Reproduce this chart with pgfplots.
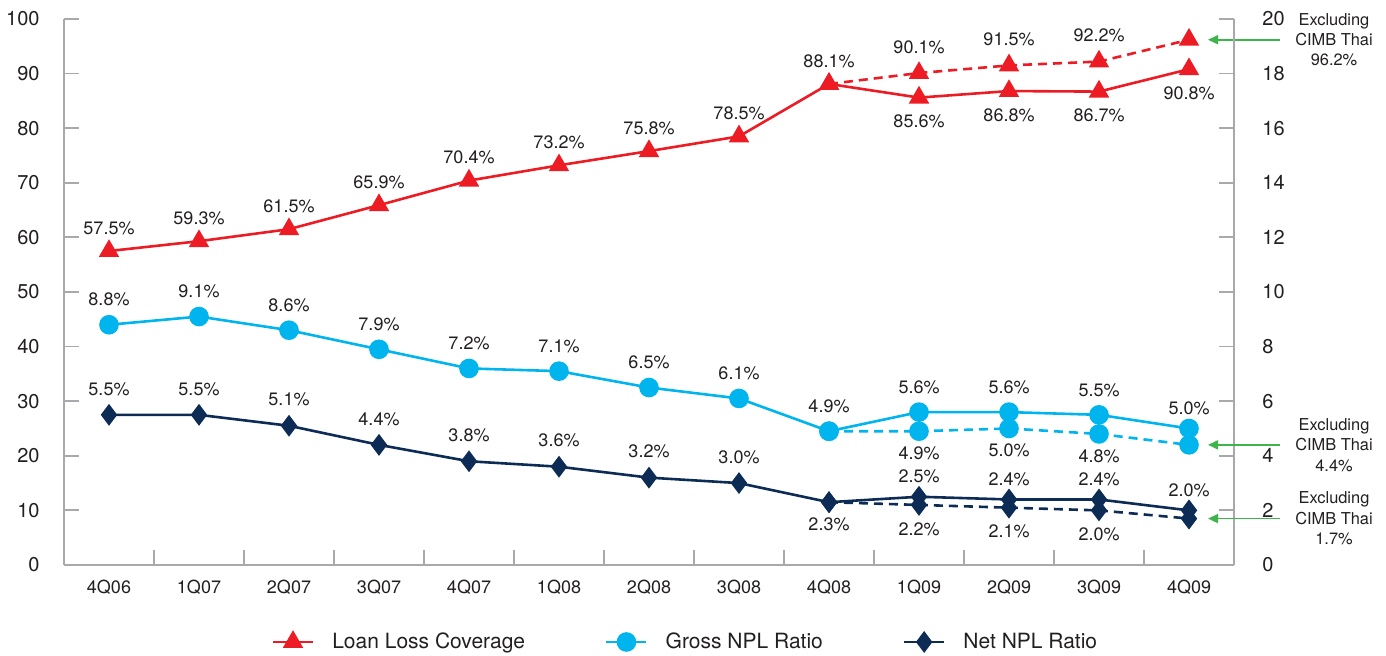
\documentclass[border=0pt]{standalone}
\usepackage{fontspec}
\setmainfont{TeX Gyre Heros}
\usepackage{pgfplots}
\usepackage{pgfplotstable}
\pgfplotsset{compat=1.18}
\usetikzlibrary{arrows.meta}
\definecolor{cred}{HTML}{ED1C24}
\definecolor{ccyan}{HTML}{00B4EE}
\definecolor{cnavy}{HTML}{0C2C55}
\definecolor{cgreen}{HTML}{3DB54A}
\definecolor{cgrid}{HTML}{A7A9AC}
\definecolor{ctext}{HTML}{231F20}
\pgfplotsset{
 /pgf/number format/assume math mode=true,
 loan/.style={cred, line width=1.3pt, mark=triangle*, mark size=4.6pt, mark options={solid, fill=cred}},
 gross/.style={ccyan, line width=1.3pt, mark=*, mark size=4.25pt, mark options={solid, fill=ccyan}},
 net/.style={cnavy, line width=1.3pt, mark=diamond*, mark size=4.4pt, mark options={solid, fill=cnavy}},
 dashline/.style={dash pattern=on 4.5pt off 3pt},
 dlab/.style={draw=none, nodes near coords={\pgfmathprintnumber[fixed,fixed zerofill,precision=1]{\pgfplotspointmeta}\%},
   point meta=y,
   every node near coord/.append style={anchor=center, yshift=#1, font=\fontsize{9}{10.8}\selectfont, text=ctext}},
 common/.style={scale only axis, width=585pt, height=273pt, xmin=-0.5, xmax=12.5, ymin=0,
   clip=false, tick align=inside, major tick length=7.5pt,
   axis line style={cgrid, line width=0.9pt}, tick style={cgrid, line width=0.9pt},
   yticklabel style={font=\fontsize{10}{12}\selectfont, text=ctext, inner sep=0pt}},
}
\pgfplotstableread{
x y
0 57.5
1 59.3
2 61.5
3 65.9
4 70.4
5 73.2
6 75.8
7 78.5
8 88.1
9 85.6
10 86.8
11 86.7
12 90.8
}\loansolid
\pgfplotstableread{
x y
8 88.1
9 90.1
10 91.5
11 92.2
12 96.2
}\loandash
\pgfplotstableread{
x y
0 8.8
1 9.1
2 8.6
3 7.9
4 7.2
5 7.1
6 6.5
7 6.1
8 4.9
9 5.6
10 5.6
11 5.5
12 5.0
}\grosssolid
\pgfplotstableread{
x y
8 4.9
9 4.9
10 5.0
11 4.8
12 4.4
}\grossdash
\pgfplotstableread{
x y
0 5.5
1 5.5
2 5.1
3 4.4
4 3.8
5 3.6
6 3.2
7 3.0
8 2.3
9 2.5
10 2.4
11 2.4
12 2.0
}\netsolid
\pgfplotstableread{
x y
8 2.3
9 2.2
10 2.1
11 2.0
12 1.7
}\netdash
\begin{document}
\begin{tikzpicture}
\begin{axis}[common, ymax=100,
  axis x line*=bottom, axis y line*=left,
  xtick={-0.5,0.5,...,12.5}, x tick label as interval,
  xticklabels={4Q06,1Q07,2Q07,3Q07,4Q07,1Q08,2Q08,3Q08,4Q08,1Q09,2Q09,3Q09,4Q09},
  xticklabel style={font=\fontsize{9}{11}\selectfont, text=ctext, inner sep=0pt, anchor=north, yshift=-7.5pt},
  ytick={0,10,...,100},
  yticklabel style={anchor=east, xshift=-12pt},
]
\addplot[loan, dashline, forget plot] table {\loandash};
\addplot[dlab=13pt, forget plot, restrict x to domain=8.5:11.5] table {\loandash};
\addplot[loan, forget plot] table {\loansolid};
\addplot[dlab=11.5pt, forget plot, restrict x to domain=-1:8.5] table {\loansolid};
\addplot[dlab=-12pt, forget plot, restrict x to domain=8.5:13] table {\loansolid};
\draw[cgreen, line width=0.8pt, -{Triangle[length=5pt,width=4.5pt]}] ([xshift=45.5pt]axis cs:12,96.2) -- ([xshift=9.5pt]axis cs:12,96.2);
\node[align=center, font=\fontsize{8.2}{10.2}\selectfont, text=ctext] at ([xshift=72.5pt]axis cs:12,96.2) {Excluding\\CIMB Thai\\96.2\%};
\end{axis}
\begin{axis}[common, ymax=20,
  axis x line=none, axis y line*=right,
  ytick={0,2,...,20},
  yticklabel style={anchor=west, xshift=14pt},
  legend columns=3,
  legend style={at={(0.532,-0.141)}, anchor=center, draw=none, fill=none,
    font=\fontsize{10.5}{12}\selectfont, text=ctext,
    /tikz/every even column/.append style={column sep=38pt},
    /tikz/every odd column/.append style={column sep=7pt}},
  legend image code/.code={\draw[mark repeat=2,mark phase=2,#1] plot coordinates {(0pt,0pt) (10pt,0pt) (20pt,0pt)};},
]
\addlegendimage{loan}
\addlegendentry{Loan Loss Coverage}
\addplot[gross, dashline, forget plot] table {\grossdash};
\addplot[dlab=-11pt, forget plot, restrict x to domain=8.5:11.5] table {\grossdash};
\addplot[gross] table {\grosssolid};
\addlegendentry{Gross NPL Ratio}
\addplot[dlab=12.5pt, forget plot, restrict x to domain=-1:11.5] table {\grosssolid};
\addplot[dlab=10pt, forget plot, restrict x to domain=11.5:13] table {\grosssolid};
\addplot[net, dashline, forget plot] table {\netdash};
\addplot[dlab=-12pt, forget plot, restrict x to domain=8.5:11.5] table {\netdash};
\addplot[net] table {\netsolid};
\addlegendentry{Net NPL Ratio}
\addplot[dlab=13pt, forget plot, restrict x to domain=-1:7.5] table {\netsolid};
\addplot[dlab=-11pt, forget plot, restrict x to domain=7.5:8.5] table {\netsolid};
\addplot[dlab=10pt, forget plot, restrict x to domain=8.5:13] table {\netsolid};
\draw[cgreen, line width=0.8pt, -{Triangle[length=5pt,width=4.5pt]}] ([xshift=45.5pt]axis cs:12,4.4) -- ([xshift=9.5pt]axis cs:12,4.4);
\node[align=center, font=\fontsize{8.2}{10.2}\selectfont, text=ctext] at ([xshift=72.5pt]axis cs:12,4.4) {Excluding\\CIMB Thai\\4.4\%};
\draw[cgreen, line width=0.8pt, -{Triangle[length=5pt,width=4.5pt]}] ([xshift=45.5pt]axis cs:12,1.7) -- ([xshift=9.5pt]axis cs:12,1.7);
\node[align=center, font=\fontsize{8.2}{10.2}\selectfont, text=ctext] at ([xshift=72.5pt]axis cs:12,1.7) {Excluding\\CIMB Thai\\1.7\%};
\end{axis}
\pgfresetboundingbox
\path (-32pt,-45.5pt) rectangle (661pt,282.5pt);
\end{tikzpicture}
\end{document}
